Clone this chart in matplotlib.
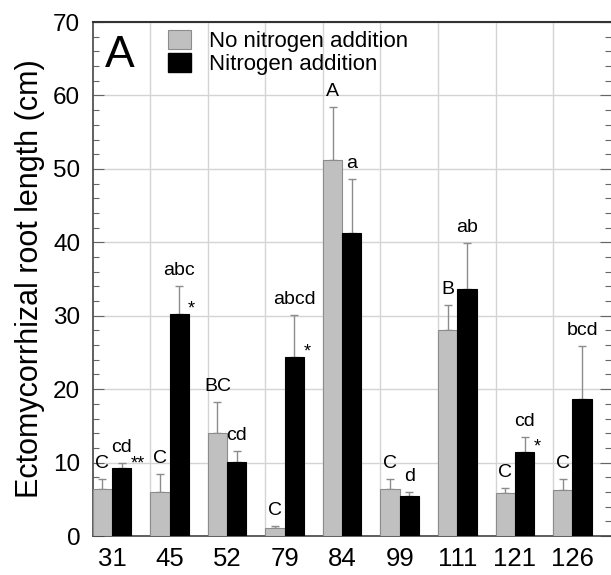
import numpy as np
import matplotlib
matplotlib.use('Agg')
import matplotlib.pyplot as plt
from matplotlib.patches import Patch

plt.rcParams['font.family'] = ['Liberation Sans', 'DejaVu Sans']

# stand (years) and root length values
groups = ['31', '45', '52', '79', '84', '99', '111', '121', '126']
no_n = [6.4, 6.0, 14.0, 1.1, 51.2, 6.4, 28.0, 5.9, 6.3]
no_n_se = [1.3, 2.4, 4.2, 0.2, 7.2, 1.3, 3.5, 0.6, 1.5]
n_add = [9.2, 30.3, 10.1, 24.4, 41.3, 5.4, 33.6, 11.5, 18.6]
n_add_se = [0.7, 3.8, 1.5, 5.7, 7.3, 0.6, 6.3, 2.0, 7.3]

# letters from the post hoc tests
no_n_letters = ['C', 'C', 'BC', 'C', 'A', 'C', 'B', 'C', 'C']
n_letters = ['cd', 'abc', 'cd', 'abcd', 'a', 'd', 'ab', 'cd', 'bcd']
stars = ['**', '*', '', '*', '', '', '', '*', '']

grey = '#c0c0c0'
err_col = '#8c8c8c'
w = 0.335

fig = plt.figure(figsize=(6.11, 5.75), dpi=100)
ax = fig.add_axes([0.1517, 0.0678, 0.8478, 0.8939])

x = np.arange(len(groups))
xg = x + w / 2
xb = x + 1.5 * w

ax.bar(xg, no_n, w, color=grey, edgecolor=err_col, linewidth=0.8, zorder=3)
ax.bar(xb, n_add, w, color='black', edgecolor='black', linewidth=0.8, zorder=3)
ax.errorbar(xg, no_n, yerr=[np.zeros(len(no_n)), no_n_se], fmt='none',
            ecolor=err_col, elinewidth=1, capsize=3, capthick=1, zorder=2)
ax.errorbar(xb, n_add, yerr=[np.zeros(len(n_add)), n_add_se], fmt='none',
            ecolor=err_col, elinewidth=1, capsize=3, capthick=1, zorder=2)

for i in range(len(groups)):
    ax.annotate(no_n_letters[i], (xg[i], no_n[i] + no_n_se[i]), xytext=(0, 8),
                textcoords='offset points', ha='center', va='baseline', fontsize=14)
    ax.annotate(n_letters[i], (xb[i], n_add[i] + n_add_se[i]), xytext=(0, 8),
                textcoords='offset points', ha='center', va='baseline', fontsize=14)
    if stars[i]:
        ax.annotate(stars[i], (xb[i] + w / 2, n_add[i]), xytext=(-0.5, 0),
                    textcoords='offset points', ha='left', va='baseline', fontsize=13)

ax.set_xlim(0, 9)
ax.set_ylim(0, 70)
ax.set_xticks(x + w)
ax.set_xticklabels(groups, fontsize=18.5)
ax.set_xticks(np.arange(1, 9), minor=True)
ax.tick_params(axis='x', which='both', length=0, pad=8)

ax.set_yticks(np.arange(0, 71, 10))
ax.set_yticks(np.arange(0, 71, 2), minor=True)
ax.tick_params(axis='y', which='major', direction='in', length=8, width=0.8,
               color='#666666', labelsize=17.5, pad=9, right=True)
ax.tick_params(axis='y', which='minor', direction='in', length=4, width=0.8,
               color='#666666', right=True)

ax.grid(True, axis='y', which='major', color='#d4d4d4', linewidth=1, zorder=0)
ax.grid(True, axis='x', which='minor', color='#d4d4d4', linewidth=1, zorder=0)
ax.set_axisbelow(True)

for s in ['left', 'bottom']:
    ax.spines[s].set_color('#444444')
    ax.spines[s].set_linewidth(1.2)
ax.spines['top'].set_color('#333333')
ax.spines['top'].set_linewidth(1.5)
ax.spines['right'].set_visible(False)

ax.set_ylabel('Ectomycorrhizal root length (cm)', fontsize=22, labelpad=6)

ax.text(0.024, 0.975, 'A', transform=ax.transAxes, fontsize=32, ha='left', va='top')

handles = [Patch(facecolor=grey, edgecolor=err_col, linewidth=0.8),
           Patch(facecolor='black', edgecolor='black')]
ax.legend(handles, ['No nitrogen addition', 'Nitrogen addition'],
          loc='upper left', bbox_to_anchor=(0.145, 0.985), frameon=False,
          fontsize=16, borderpad=0, borderaxespad=0, handlelength=1.04,
          handleheight=0.95, handletextpad=0.8, labelspacing=0.05)

fig.savefig('out.png', dpi=100)
